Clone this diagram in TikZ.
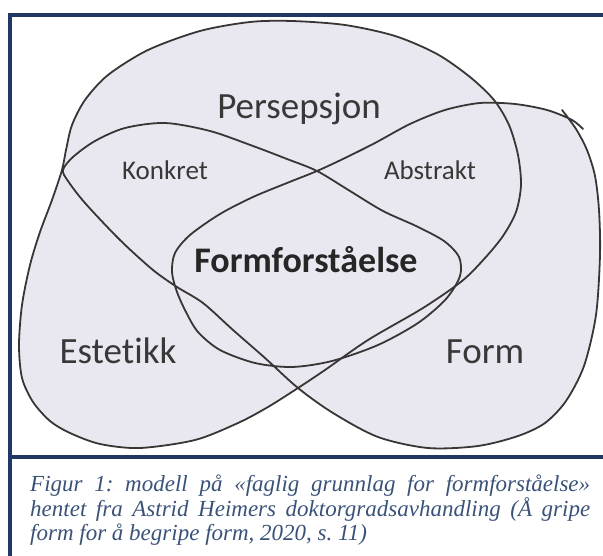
\documentclass[tikz,border=0pt]{standalone}
\usepackage{fontspec}
\newfontfamily\lblfont[Ligatures={NoCommon}]{Carlito}
\newfontfamily\capfont{Liberation Serif}
\definecolor{navy}{HTML}{1F3864}
\definecolor{blobfill}{HTML}{E9E8F0}
\definecolor{ink}{HTML}{3A3535}
\definecolor{lbltxt}{HTML}{383838}
\definecolor{captxt}{HTML}{3A5278}
\begin{document}
\frenchspacing
\begin{tikzpicture}[x=1pt,y=-1pt,
  pen/.style={draw=ink, line width=1.8pt, line join=round, line cap=round},
  lbl/.style={text=lbltxt, inner sep=0pt, anchor=base},
  frameline/.style={draw=navy, line width=4pt},
  captext/.style={text=captxt, inner sep=0pt, anchor=base west,
    font=\capfont\itshape\fontsize{23}{24.5}\selectfont}]
\useasboundingbox (0,0) rectangle (603,556);
% Persepsjon dome + Estetikk lobe (one closed stroke)
\path[fill=blobfill, save path=\domep] plot[smooth cycle, tension=0.5] coordinates {
 (292,21) (345,25) (395,36) (437,54) (470,77) (494,100) (509,125) (518,155)
 (521,185) (516,212) (503,236) (485,258) (462,281) (423,308) (368,340)
 (325,370) (298,388) (268,407) (238,423) (195,440) (140,448) (100,444)
 (70,433) (50,421) (33,402) (22,378) (19,345) (22,305) (30,265) (40,232)
 (52,200) (62,170) (66,150) (72,125) (85,100) (108,75) (148,50) (200,31) (250,22)};
% Form stroke: Abstrakt top, Formforstaaelse loop, Konkret loop, Form lobe
\path[fill=blobfill, save path=\formp] plot[smooth, tension=0.5] coordinates {
 (583,129) (572,120) (547,110) (515,104) (480,103) (445,110) (410,124)
 (375,143) (345,158) (317,171) (287,183) (253,197) (220,214) (190,235)
 (175,253) (172,272) (177,292) (186,312) (198,332) (220,350) (255,363)
 (292,367) (332,361) (378,345) (418,323) (446,299) (460,276) (459,257)
 (444,241) (416,226) (383,211) (350,191) (317,171) (287,159) (253,146)
 (210,131) (165,123) (125,128) (95,141) (73,157) (63,170) (68,181)
 (85,203) (120,240) (153,270) (177,287) (203,303) (233,330) (265,358)
 (298,388) (333,413) (378,437) (428,448) (478,446) (518,436) (545,423)
 (566,401) (584,366) (596,315) (600,255) (599,210) (595,176) (587,150)
 (576,129) (562,110)};
\draw[pen, use path=\domep];
\draw[pen, use path=\formp];
% labels
\node[lbl, font=\lblfont\fontsize{37}{37}\selectfont] (persepsjon) at (299,119) {Persepsjon};
\node[lbl, font=\lblfont\fontsize{27}{27}\selectfont] (konkret) at (165,180) {Konkret};
\node[lbl, font=\lblfont\fontsize{27}{27}\selectfont] (abstrakt) at (430,180) {Abstrakt};
\node[lbl, text=black!85, font=\lblfont\bfseries\fontsize{36}{36}\selectfont] (formf) at (306,273) {Formforståelse};
\node[lbl, font=\lblfont\fontsize{37}{37}\selectfont] (estetikk) at (118,363) {Estetikk};
\node[lbl, font=\lblfont\fontsize{37}{37}\selectfont] (form) at (485,363) {Form};
% frame
\draw[frameline] (8,15) -- (603,15);
\draw[frameline] (10,13) -- (10,556);
\draw[frameline] (10,457) -- (603,457);
% caption
\node[captext] (cap1) at (30,491) {\makebox[560pt][s]{Figur 1: modell på «faglig grunnlag for formforståelse»}};
\node[captext] (cap2) at (30,516) {\makebox[560pt][s]{hentet fra Astrid Heimers doktorgradsavhandling (Å gripe}};
\node[captext] (cap3) at (30,540) {form for å begripe form, 2020, s. 11)};
\end{tikzpicture}
\end{document}
